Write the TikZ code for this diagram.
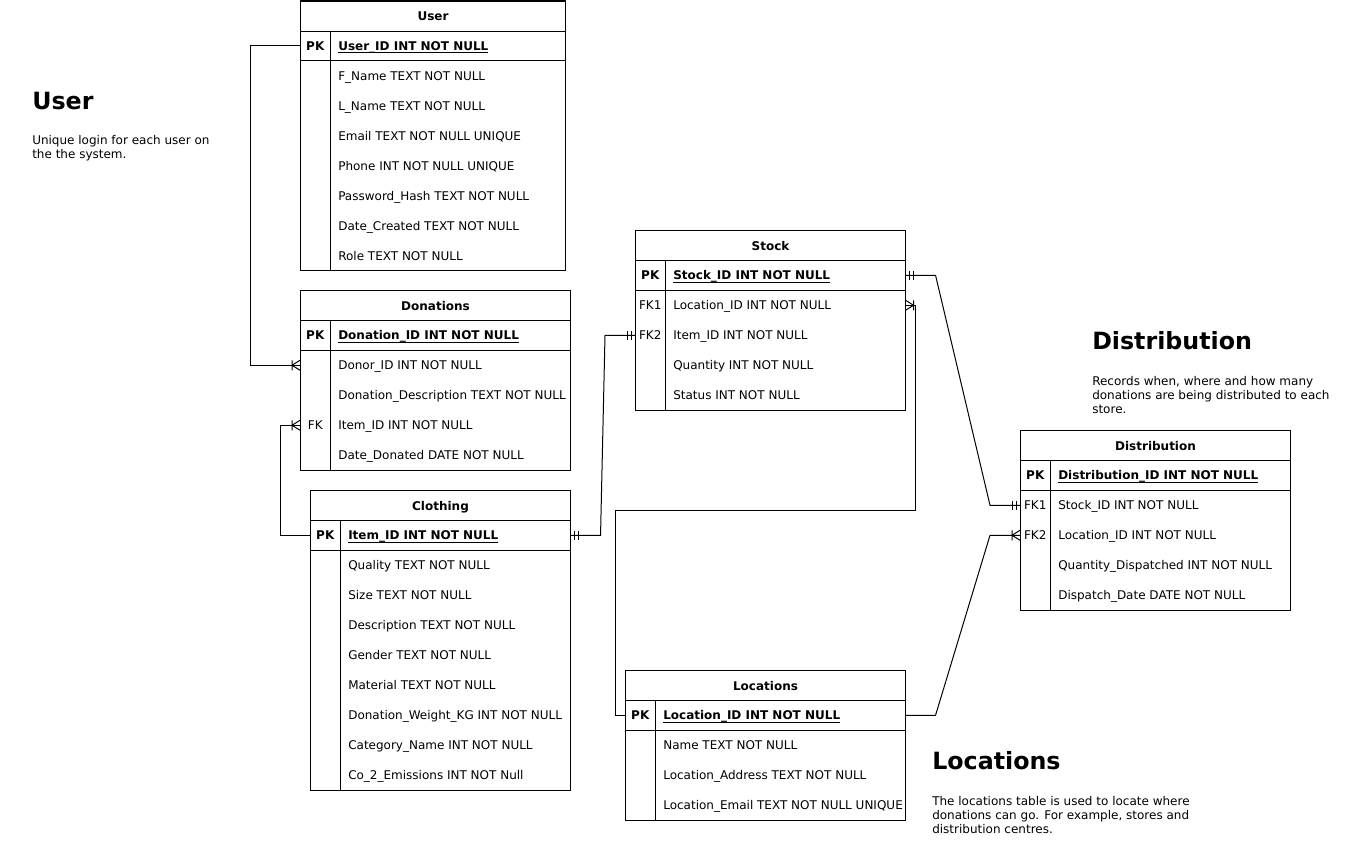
\documentclass[tikz,border=0pt]{standalone}
\usepackage{fontspec}
\setmainfont{DejaVu Sans}
\newcommand\ul[1]{\setbox0\hbox{#1}\rlap{\rule[-2.2pt]{\wd0}{0.75pt}}\box0}
\tikzset{
 tbl/.style={line width=0.75pt},
 hdr/.style={draw, line width=0.75pt, anchor=north west, minimum height=22.5pt, inner sep=0, text height=8pt, text depth=1pt, font=\fontsize{9}{10}\selectfont\bfseries},
 keycell/.style={anchor=north west, minimum width=22.5pt, minimum height=22.5pt, inner sep=0, text height=8pt, text depth=1pt, font=\fontsize{9}{10}\selectfont},
 rowcell/.style={anchor=north west, minimum height=22.5pt, inner sep=0},
 rowtext/.style={anchor=west, inner sep=0, text height=8pt, text depth=1pt, font=\fontsize{9}{10}\selectfont},
 conn/.style={line width=0.75pt},
 pics/crow/.style={code={\draw[conn] (-8,-5)--(-8,5) (-8,0)--(0,5) (-8,0)--(0,-5);}},
 pics/mone/.style={code={\draw[conn] (-4,-4.5)--(-4,4.5) (-8,-4.5)--(-8,4.5);}},
 heading/.style={anchor=base west, inner sep=0, font=\fontsize{17.8}{20}\selectfont\bfseries},
 desc/.style={anchor=base west, inner sep=0, font=\fontsize{9}{10.5}\selectfont},
}
\newcommand\ertab[7]{%
 \node[hdr, minimum width={#4*0.75pt}] (#1) at (#2,#3) {#5};
 \foreach \ky/\tx [count=\i] in {#6} {%
   \pgfmathsetmacro\yy{#3+30*\i}
   \node[rowcell, minimum width={(#4-30)*0.75pt}] (#1r\i) at ({#2+30},\yy) {};
   \ifnum\i=1
     \node[keycell, font=\fontsize{9}{10}\selectfont\bfseries] (#1k\i) at (#2,\yy) {\ky};
     \node[rowtext, font=\fontsize{9}{10}\selectfont\bfseries] (#1t\i) at ([xshift=6pt]#1r\i.west) {\ul{\tx}};
   \else
     \node[keycell] (#1k\i) at (#2,\yy) {\ky};
     \node[rowtext] (#1t\i) at ([xshift=6pt]#1r\i.west) {\tx};
   \fi
 }
 \draw[tbl] (#2,#3) rectangle ({#2+#4},{#3+30*(#7+1)});
 \draw[tbl] (#2,{#3+60}) -- ({#2+#4},{#3+60});
 \draw[tbl] ({#2+30},{#3+30}) -- ({#2+30},{#3+30*(#7+1)});
}
\begin{document}
\begin{tikzpicture}[x=0.75pt,y=-0.75pt]
\useasboundingbox (0,0) rectangle (1351,844);

\ertab{U}{300}{0.5}{265}{User}{PK/User\_ID INT NOT NULL, {}/F\_Name TEXT NOT NULL, {}/L\_Name TEXT NOT NULL, {}/Email TEXT NOT NULL UNIQUE, {}/Phone INT NOT NULL UNIQUE, {}/Password\_Hash TEXT NOT NULL, {}/Date\_Created TEXT NOT NULL, {}/Role TEXT NOT NULL}{8}

\ertab{D}{300}{290}{270}{Donations}{PK/Donation\_ID INT NOT NULL, {}/Donor\_ID INT NOT NULL, {}/Donation\_Description TEXT NOT NULL, FK/Item\_ID INT NOT NULL, {}/Date\_Donated DATE NOT NULL}{5}

\ertab{C}{310}{490}{260}{Clothing}{PK/Item\_ID INT NOT NULL, {}/Quality TEXT NOT NULL, {}/Size TEXT NOT NULL, {}/Description TEXT NOT NULL, {}/Gender TEXT NOT NULL, {}/Material TEXT NOT NULL, {}/Donation\_Weight\_KG INT NOT NULL, {}/Category\_Name INT NOT NULL, {}/Co\_2\_Emissions INT NOT Null}{9}

\ertab{S}{635}{230}{270}{Stock}{PK/Stock\_ID INT NOT NULL, FK1/Location\_ID INT NOT NULL, FK2/Item\_ID INT NOT NULL, {}/Quantity INT NOT NULL, {}/Status INT NOT NULL}{5}

\ertab{T}{1020}{430}{270}{Distribution}{PK/Distribution\_ID INT NOT NULL, FK1/Stock\_ID INT NOT NULL, FK2/Location\_ID INT NOT NULL, {}/Quantity\_Dispatched INT NOT NULL, {}/Dispatch\_Date DATE NOT NULL}{5}

\ertab{L}{625}{670}{280}{Locations}{PK/Location\_ID INT NOT NULL, {}/Name TEXT NOT NULL, {}/Location\_Address TEXT NOT NULL, {}/Location\_Email TEXT NOT NULL UNIQUE}{4}

% connectors
\draw[conn] (Uk1.west) -- ++(-50,0) |- (Dk2.west);
\pic at (Dk2.west) {crow};
\draw[conn] (Ck1.west) -- ++(-30,0) |- (Dk4.west);
\pic at (Dk4.west) {crow};
\draw[conn] (Cr1.east) -- ++(30,0) -- ([xshift=-22.5pt]Sk3.west) -- (Sk3.west);
\pic[xscale=-1] at (Cr1.east) {mone};
\pic at (Sk3.west) {mone};
\draw[conn] (Sr1.east) -- ++(30,0) -- ([xshift=-22.5pt]Tk2.west) -- (Tk2.west);
\pic[xscale=-1] at (Sr1.east) {mone};
\pic at (Tk2.west) {mone};
\draw[conn] (Lk1.west) -- ++(-10,0) -- ++(0,-205) -- ++(300,0) -- ++(0,-205) -- (Sr2.east);
\pic[xscale=-1] at (Sr2.east) {crow};
\draw[conn] (Lr1.east) -- ++(30,0) -- ([xshift=-22.5pt]Tk3.west) -- (Tk3.west);
\pic at (Tk3.west) {crow};

% notes
\node[heading] (hU) at (32,109.5) {User};
\node[desc] (dU) at (32,144) {\parbox[t]{200pt}{Unique login for each user on\\the the system.}};
\node[heading] (hT) at (1092,349.5) {Distribution};
\node[desc] (dT) at (1092,385) {\parbox[t]{200pt}{Records when, where and how many\\donations are being distributed to each\\store.}};
\node[heading] (hL) at (932,769.5) {Locations};
\node[desc] (dL) at (932,805) {\parbox[t]{220pt}{The locations table is used to locate where\\donations can go. For example, stores and\\distribution centres.}};
\end{tikzpicture}
\end{document}
